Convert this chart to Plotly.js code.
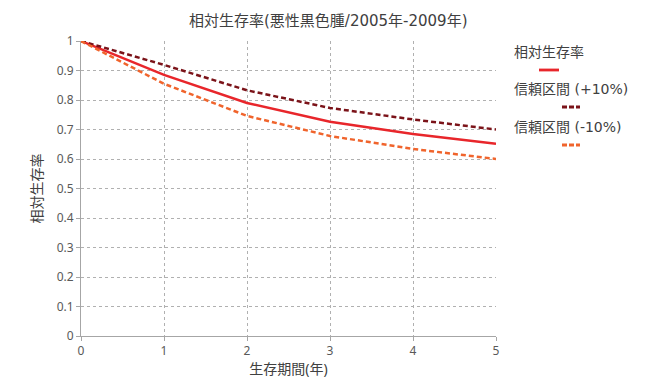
<!DOCTYPE html>
<html>
<head>
<meta charset="utf-8">
<script src="https://cdn.plot.ly/plotly-3.0.1.min.js"></script>
<style>html,body{margin:0;padding:0;background:#fff;}#chart{width:650px;height:390px;}</style>
</head>
<body>
<div id="chart"></div>
<script>
const years = [0, 1, 2, 3, 4, 5];
const relSurvival = [1, 0.885, 0.79, 0.726, 0.685, 0.652];
const ciUpper = [1, 0.919, 0.833, 0.773, 0.734, 0.70];
const ciLower = [1, 0.855, 0.746, 0.678, 0.634, 0.60];
const seriesNames = ['相対生存率', '信頼区間 (+10%)', '信頼区間 (-10%)'];
const yTicks = [0, 0.1, 0.2, 0.3, 0.4, 0.5, 0.6, 0.7, 0.8, 0.9, 1];
const yTickText = ['0', '0.1', '0.2', '0.3', '0.4', '0.5', '0.6', '0.7', '0.8', '0.9', '1'];

const FONT = '"Noto Sans", "Noto Sans CJK JP", sans-serif';
const WFONT = '"DejaVu Sans", "Noto Sans CJK JP", sans-serif';
const colors = ['#e8262b', '#7b1319', '#f0642c'];
const dashes = ['solid', '5px,3px', '5px,3px'];
const seriesData = [relSurvival, ciUpper, ciLower];

const traces = seriesData.map((ys, i) => ({
  x: years, y: ys, name: seriesNames[i], type: 'scatter', mode: 'lines',
  line: {color: colors[i], width: 2.5, dash: dashes[i]},
  showlegend: false
}));

const annotations = [];
const shapes = [];
const legendX = 512;
const legendTop = [52, 89, 127];
const sampleHalf = [10, 9, 9];
const textCenter = [549, 571, 571];
const px2x = px => (px - 81) / (496 - 81);
const px2y = py => 1 - (py - 41) / (336 - 41);
seriesNames.forEach((n, i) => {
  annotations.push({
    text: n, xref: 'paper', yref: 'paper',
    x: px2x(legendX), y: px2y(legendTop[i]),
    xanchor: 'left', yanchor: 'middle', showarrow: false,
    font: {family: WFONT, size: 14, color: '#404040'}
  });
  const sy = px2y(legendTop[i] + 18);
  shapes.push({
    type: 'line', xref: 'paper', yref: 'paper',
    x0: px2x(textCenter[i] - sampleHalf[i]),
    x1: px2x(textCenter[i] + sampleHalf[i]),
    y0: sy, y1: sy,
    line: {color: colors[i], width: 2.8, dash: i === 0 ? 'solid' : '5px,2px'}
  });
});

const layout = {
  width: 650, height: 390,
  margin: {l: 81, r: 154, t: 41, b: 54},
  paper_bgcolor: '#ffffff', plot_bgcolor: '#ffffff',
  font: {family: FONT, size: 12, color: '#404040'},
  title: {text: '相対生存率(悪性黒色腫/2005年-2009年)', x: 0.505, xref: 'container', xanchor: 'center', y: 0.948, yanchor: 'middle',
          font: {family: WFONT, size: 15, color: '#404040'}},
  showlegend: false,
  xaxis: {
    range: [0, 5], tickvals: years, ticktext: years.map(String),
    showgrid: true, gridcolor: '#b0b0b0', griddash: 'dot', gridwidth: 1,
    showline: true, linecolor: '#a6a6a6', linewidth: 1,
    ticks: 'outside', ticklen: 4, tickcolor: '#a6a6a6',
    zeroline: false, tickfont: {family: FONT, size: 12, color: '#595959'},
    title: {text: '生存期間(年)', font: {family: FONT, size: 14, color: '#404040'}, standoff: 5}
  },
  yaxis: {
    range: [0, 1], tickvals: yTicks, ticktext: yTickText,
    showgrid: true, gridcolor: '#b0b0b0', griddash: 'dot', gridwidth: 1,
    showline: true, linecolor: '#a6a6a6', linewidth: 1,
    ticks: 'outside', ticklen: 4, tickcolor: '#a6a6a6',
    zeroline: false, tickfont: {family: FONT, size: 12, color: '#595959'},
    title: {text: '相対生存率', font: {family: FONT, size: 14, color: '#404040'}, standoff: 10}
  },
  annotations: annotations,
  shapes: shapes
};

Plotly.newPlot('chart', traces, layout, {displayModeBar: false, staticPlot: true});
</script>
</body>
</html>
